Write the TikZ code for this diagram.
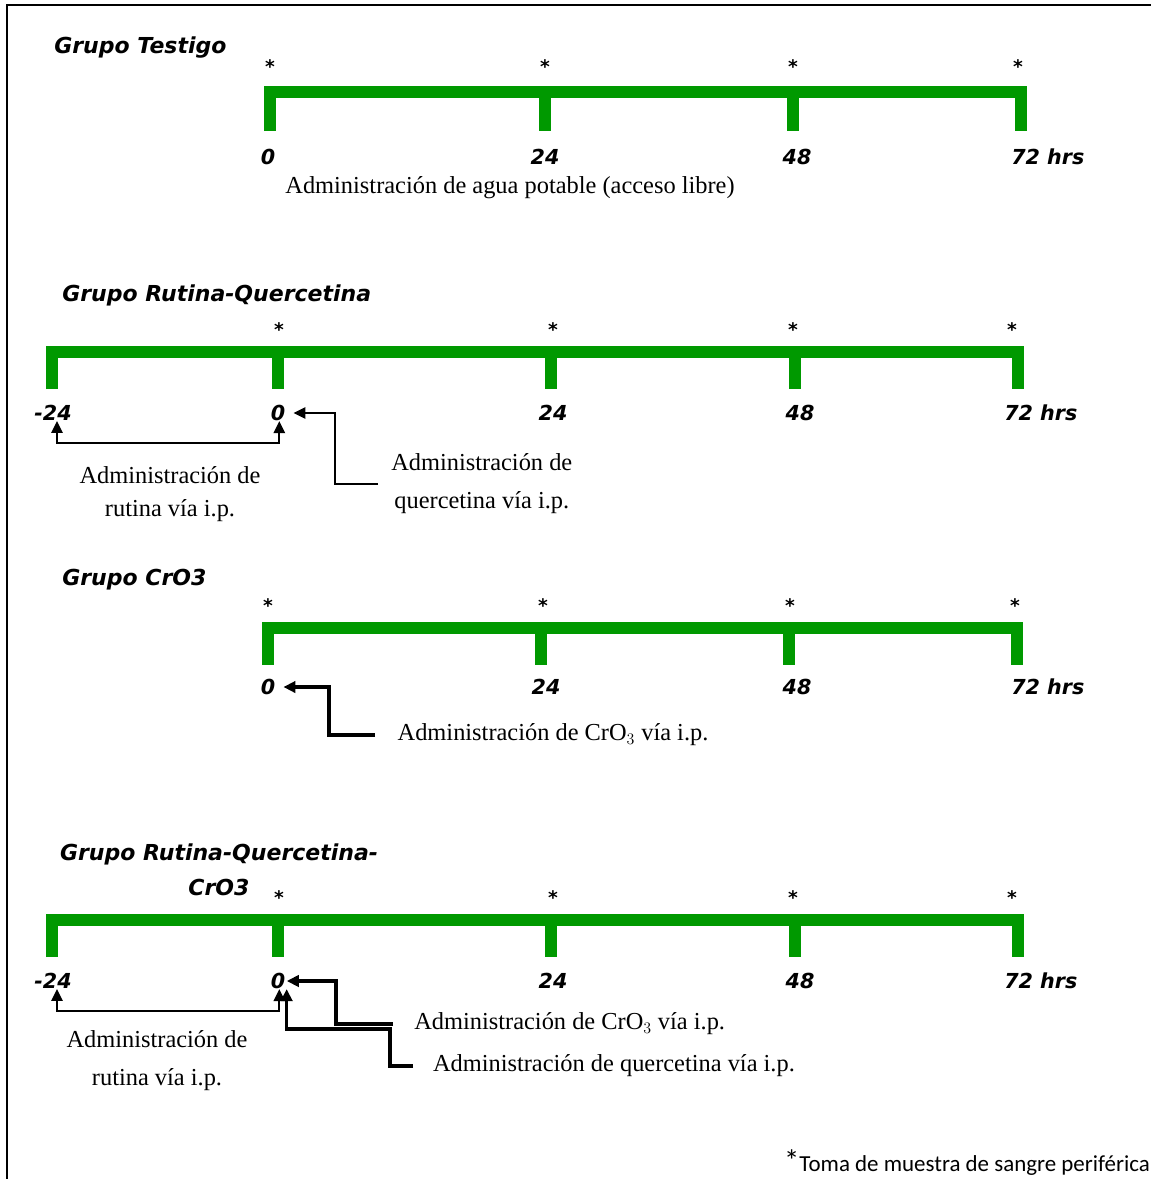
\documentclass[tikz,border=0pt]{standalone}
\usepackage{fontspec}
\setmainfont{Liberation Serif}
\newfontfamily\handfont{DejaVu Sans}
\newfontfamily\notefont{Carlito}
\usetikzlibrary{arrows.meta}
\definecolor{bargreen}{RGB}{0,153,0}
\tikzset{
	>={Triangle[length=9pt,width=8.5pt]},
	bar/.style={draw=bargreen, line width=8.6pt, line join=miter},
	hand/.style={font=\handfont\bfseries\itshape\fontsize{16.5}{26}\selectfont, inner sep=0pt},
	hour/.style={font=\handfont\bfseries\itshape\fontsize{15.5}{18}\selectfont, inner sep=0pt},
	mark star/.style={font=\handfont\bfseries\fontsize{14}{14}\selectfont, inner sep=0pt},
	txt/.style={font=\fontsize{18.3}{#1}\selectfont, align=center, inner sep=0pt},
	txt/.default=25,
	lead/.style={draw, line width=1.4pt},
	heavy/.style={draw, line width=2.6pt}}

\begin{document}
\begin{tikzpicture}[x=0.75pt, y=-0.75pt]
	
	\useasboundingbox (0,0) rectangle (1151,1179);
	\draw[line width=2.2pt] (7,1179) -- (7,5) -- (1151,5);
	
	% Grupo Testigo
	\node[hand, anchor=west] (titleA) at (54,48) {Grupo Testigo};
	\draw[bar] (270,131) |- (1021,92) -- (1021,131);
	\draw[bar] (545,92) -- (545,131);
	\draw[bar] (793,92) -- (793,131);
	\node[mark star] (sA0) at (270,67) {*};
	\node[mark star] (sA24) at (545,67) {*};
	\node[mark star] (sA48) at (793,67) {*};
	\node[mark star] (sA72) at (1018,67) {*};
	\node[hour] (a0) at (268,157) {0};
	\node[hour] (a24) at (545,157) {24};
	\node[hour] (a48) at (797,157) {48};
	\node[hour, anchor=west] (a72) at (1011,157) {72 hrs};
	\node[txt] (agua) at (510,188) {Administración de agua potable (acceso libre)};
	
	% Grupo Rutina-Quercetina
	\node[hand, anchor=west] (titleB) at (62,295) {Grupo Rutina-Quercetina};
	\draw[bar] (52,389) |- (1018,352) -- (1018,389);
	\draw[bar] (278,352) -- (278,389);
	\draw[bar] (551,352) -- (551,389);
	\draw[bar] (795,352) -- (795,389);
	\node[mark star] (sB0) at (279,330) {*};
	\node[mark star] (sB24) at (553,330) {*};
	\node[mark star] (sB48) at (793,330) {*};
	\node[mark star] (sB72) at (1012,330) {*};
	\node[hour] (bm24) at (53,413) {-24};
	\node[hour] (b0) at (278,413) {0};
	\node[hour] (b24) at (553,413) {24};
	\node[hour] (b48) at (800,413) {48};
	\node[hour, anchor=west] (b72) at (1004,413) {72 hrs};
	\node[txt=25] (rutB) at (170,494) {Administración de\\rutina vía i.p.};
	\node[txt=28.5, anchor=west, outer xsep=10pt] (querB) at (378,484) {Administración de\\quercetina vía i.p.};
	
	\draw[lead, <->] ([xshift=3pt]bm24.south) -- ++(0,22) -| ([xshift=1pt]b0.south);
	\draw[lead, ->] (querB.west) -- ++(-43,0) |- ([xshift=6pt]b0.east);
	
	% Grupo CrO3
	\node[hand, anchor=west] (titleC) at (62,580) {Grupo CrO3};
	\draw[bar] (268,665) |- (1017,628) -- (1017,665);
	\draw[bar] (541,628) -- (541,665);
	\draw[bar] (789,628) -- (789,665);
	\node[mark star] (sC0) at (268,606) {*};
	\node[mark star] (sC24) at (543,606) {*};
	\node[mark star] (sC48) at (790,606) {*};
	\node[mark star] (sC72) at (1015,606) {*};
	\node[hour] (c0) at (268,687) {0};
	\node[hour] (c24) at (546,687) {24};
	\node[hour] (c48) at (797,687) {48};
	\node[hour, anchor=west] (c72) at (1011,687) {72 hrs};
	\node[txt, anchor=west, outer xsep=17pt] (crC) at (375,735) {Administración de CrO$_3$ vía i.p.};
	
	\draw[heavy, ->] (crC.west) -- ++(-46,0) |- ([xshift=6pt]c0.east);
	
	% Grupo Rutina-Quercetina-CrO3
	\node[hand, align=center] (titleD) at (219,870) {Grupo Rutina-Quercetina-\\CrO3};
	\draw[bar] (52,957) |- (1018,920) -- (1018,957);
	\draw[bar] (278,920) -- (278,957);
	\draw[bar] (551,920) -- (551,957);
	\draw[bar] (795,920) -- (795,957);
	\node[mark star] (sD0) at (279,898) {*};
	\node[mark star] (sD24) at (553,898) {*};
	\node[mark star] (sD48) at (793,898) {*};
	\node[mark star] (sD72) at (1012,898) {*};
	\node[hour] (dm24) at (53,981) {-24};
	\node[hour] (d0) at (278,981) {0};
	\node[hour] (d24) at (553,981) {24};
	\node[hour] (d48) at (800,981) {48};
	\node[hour, anchor=west] (d72) at (1004,981) {72 hrs};
	\node[txt=28.5] (rutD) at (157,1061) {Administración de\\rutina vía i.p.};
	\node[txt, anchor=west, outer xsep=16pt] (crD) at (393,1024) {Administración de CrO$_3$ vía i.p.};
	\node[txt, anchor=west, outer xsep=15pt] (querD) at (413,1066) {Administración de quercetina vía i.p.};
	
	\draw[lead, <->] ([xshift=3pt]dm24.south) -- ++(0,22) -| ([xshift=1pt]d0.south);
	\draw[heavy, ->] (crD.west) -- ++(-57,0) |- ([xshift=1pt]d0.east);
	\draw[heavy, ->] (querD.west) -- ++(-23,0) -- ++(0,-37) -| ([xshift=6.5pt]d0.south);
	
	% nota
	\node[font=\notefont\fontsize{17.2}{17.2}\selectfont, anchor=east, inner sep=0pt] (nota) at (1150,1163) {{\fontsize{23}{23}\selectfont *}Toma de muestra de sangre periférica};
	
\end{tikzpicture}
\end{document}
